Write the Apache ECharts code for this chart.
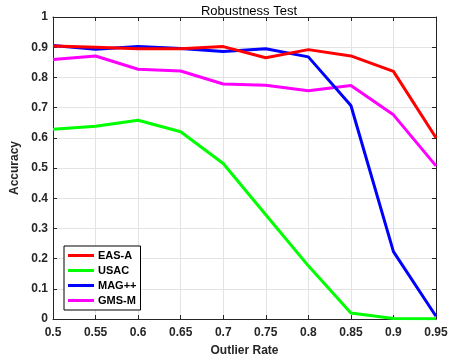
<!DOCTYPE html>
<html>
<head>
<meta charset="utf-8">
<script src="https://cdn.jsdelivr.net/npm/echarts@6/dist/echarts.min.js"></script>
<style>
  html, body { margin: 0; padding: 0; background: #fff; }
  #chart { width: 451px; height: 362px; }
</style>
</head>
<body>
<div id="chart"></div>
<script>
// outlier rates on the x axis
const outlierRates = [0.5, 0.55, 0.6, 0.65, 0.7, 0.75, 0.8, 0.85, 0.9, 0.95];
// accuracy per method
const easA = [0.904, 0.900, 0.895, 0.895, 0.902, 0.865, 0.892, 0.871, 0.820, 0.600];
const usac = [0.628, 0.638, 0.658, 0.620, 0.515, 0.345, 0.176, 0.020, 0.002, 0.001];
const magPP = [0.906, 0.893, 0.902, 0.896, 0.886, 0.895, 0.868, 0.707, 0.223, 0.009];
const gmsM = [0.859, 0.871, 0.827, 0.821, 0.778, 0.774, 0.756, 0.773, 0.676, 0.507];

const names = ['EAS-A', 'USAC', 'MAG++', 'GMS-M'];
const colors = ['#ff0000', '#00ff00', '#0000ff', '#ff00ff'];
const values = [easA, usac, magPP, gmsM];

const font = 'Helvetica, "Liberation Sans", Arial, sans-serif';
const labelColor = '#262626';

//把x和y配成一对
function pairs(ys) {
	return outlierRates.map((x, i) => [x, ys[i]]);
}

const chart = echarts.init(document.getElementById('chart'), null, { renderer: 'canvas' });

const gridLine = { show: true, lineStyle: { color: '#e3e3e3', width: 1 } };
const boxLine = { show: true, onZero: false, lineStyle: { color: '#262626', width: 1 } };

chart.setOption({
	backgroundColor: '#fff',
	animation: false,
	title: {
		text: 'Robustness Test',
		left: 244,
		textAlign: 'center',
		top: 0,
		textStyle: { fontFamily: font, fontSize: 13, fontWeight: 'normal', color: '#000' }
	},
	legend: {
		data: names,
		orient: 'vertical',
		left: 64,
		top: 246,
		backgroundColor: '#fff',
		borderColor: '#000',
		borderWidth: 1,
		padding: [4, 4, 4, 4],
		icon: 'rect',
		itemWidth: 26,
		itemHeight: 3,
		itemGap: 4,
		textStyle: { fontFamily: font, fontSize: 11, fontWeight: 'bold', color: '#000', padding: [0, 0, 0, -1] }
	},
	grid: { left: 53, right: 15, top: 17, bottom: 42 },
	xAxis: [{
		type: 'value',
		min: 0.5,
		max: 0.95,
		interval: 0.05,
		name: 'Outlier Rate',
		nameLocation: 'middle',
		nameGap: 26,
		nameTextStyle: { fontFamily: font, fontSize: 12, fontWeight: 'bold', color: labelColor },
		axisLine: boxLine,
		axisTick: { show: true, inside: true, length: 4, lineStyle: { color: '#262626' } },
		axisLabel: {
			fontFamily: font, fontSize: 12, fontWeight: 'bold', color: labelColor, margin: 8,
			formatter: v => String(parseFloat(v.toFixed(2)))
		},
		splitLine: gridLine
	}, {
		type: 'value',
		position: 'top',
		min: 0.5,
		max: 0.95,
		interval: 0.05,
		axisLine: boxLine,
		axisTick: { show: true, inside: true, length: 4, lineStyle: { color: '#262626' } },
		axisLabel: { show: false },
		splitLine: { show: false }
	}],
	yAxis: [{
		type: 'value',
		min: 0,
		max: 1,
		interval: 0.1,
		name: 'Accuracy',
		nameLocation: 'middle',
		nameGap: 28,
		nameTextStyle: { fontFamily: font, fontSize: 12, fontWeight: 'bold', color: labelColor },
		axisLine: boxLine,
		axisTick: { show: true, inside: true, length: 4, lineStyle: { color: '#262626' } },
		axisLabel: {
			fontFamily: font, fontSize: 12, fontWeight: 'bold', color: labelColor, margin: 5,
			formatter: v => String(parseFloat(v.toFixed(1)))
		},
		splitLine: gridLine
	}, {
		type: 'value',
		position: 'right',
		min: 0,
		max: 1,
		interval: 0.1,
		axisLine: boxLine,
		axisTick: { show: true, inside: true, length: 4, lineStyle: { color: '#262626' } },
		axisLabel: { show: false },
		splitLine: { show: false }
	}],
	series: names.map((name, i) => ({
		name: name,
		type: 'line',
		data: pairs(values[i]),
		showSymbol: false,
		symbol: 'none',
		color: colors[i],
		lineStyle: { color: colors[i], width: 3 },
		z: 10 - i
	}))
});
</script>
</body>
</html>
